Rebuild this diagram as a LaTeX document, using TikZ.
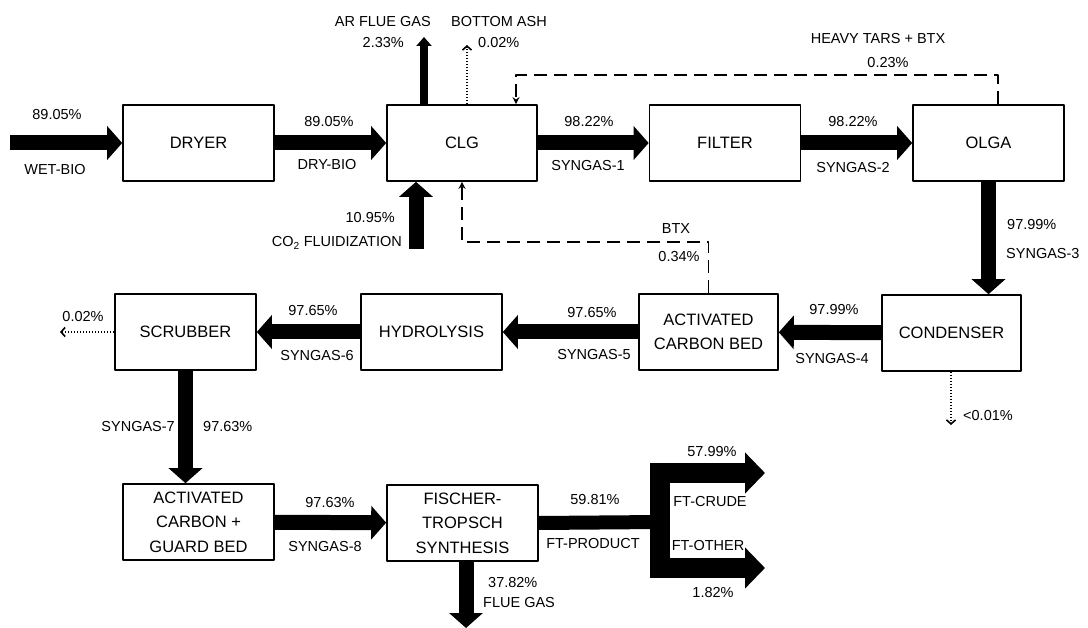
\documentclass[tikz,border=0pt]{standalone}
\usepackage{fontspec}
\setmainfont{Liberation Sans}
\usetikzlibrary{arrows.meta}

\newcommand\unitfont{\fontsize{16.5}{24.5}\selectfont}
\newcommand\tagfont{\fontsize{14.5}{17}\selectfont}

\tikzset{
  unit/.style={draw, line width=1.6pt, minimum height=76pt, align=center, inner sep=2pt, font=\unitfont},
  stream/.style={line width=15pt, -{Triangle[length=15pt, width=33pt]}},
  vent/.style={line width=8pt, -{Triangle[length=9pt, width=15pt]}},
  recycle/.style={line width=1.7pt, dash pattern=on 13pt off 7pt, -{Stealth[length=7pt, width=7pt]}},
  trace/.style={line width=1.6pt, dash pattern=on 1.5pt off 1.5pt, -{Straight Barb[length=4pt, width=9pt]}},
  split/.style={line width=20pt, line join=miter, -{Triangle[length=20pt, width=40pt]}},
  tag/.style={font=\tagfont, inner sep=1pt},
}

\begin{document}
\begin{tikzpicture}[x=1pt, y=-1pt, line join=round]
	\useasboundingbox (0,0) rectangle (1088,628);
	% process units
	\node[unit, minimum width=151pt] (dryer) at (198.5,143) {DRYER};
	\node[unit, minimum width=150pt] (clg) at (462,143) {CLG};
	\node[unit, minimum width=151pt] (filter) at (725,143) {FILTER};
	\node[unit, minimum width=151pt] (olga) at (988.5,143) {OLGA};
	\node[unit, minimum width=139pt] (condenser) at (951.5,333) {CONDENSER};
	\node[unit, minimum width=139pt] (acb) at (708.5,332) {ACTIVATED\\CARBON BED};
	\node[unit, minimum width=141pt] (hydro) at (431.5,332) {HYDROLYSIS};
	\node[unit, minimum width=141pt] (scrubber) at (185.5,332) {SCRUBBER};
	\node[unit, minimum width=151pt] (acgb) at (198.5,522) {ACTIVATED\\CARBON +\\GUARD BED};
	\node[unit, minimum width=151pt] (fts) at (462.5,523) {FISCHER-\\TROPSCH\\SYNTHESIS};
	% free ends of feeds and outlets
	\coordinate (wetbio) at (10,143);
	\coordinate (co2) at (416,249);
	\coordinate (arflue) at (424,37);
	\coordinate (ash) at (467,45);
	\coordinate (scrubloss) at (60,332);
	\coordinate (condloss) at (951,425);
	\coordinate (fluegas) at (466,628);
	\coordinate (fork) at (660,522);
	\coordinate (crude) at (765,473);
	\coordinate (other) at (765,568);
	% main line
	\draw[stream] (wetbio) -- (dryer.west);
	\draw[stream] (dryer) -- (clg);
	\draw[stream] (clg) -- (filter);
	\draw[stream] (filter) -- (olga);
	\draw[stream] (olga.south) -- (olga.south |- condenser.north);
	\draw[stream] (condenser) -- (acb);
	\draw[stream] (acb) -- (hydro);
	\draw[stream] (hydro) -- (scrubber);
	\draw[stream] (scrubber.south) -- (scrubber.south |- acgb.north);
	\draw[stream] (acgb) -- (fts);
	\draw[stream] (fts.south -| fluegas) -- (fluegas);
	\draw[stream] (co2) -- (co2 |- clg.south);
	\draw[vent] (clg.north -| arflue) -- (arflue);
	% small losses
	\draw[trace] (clg.north -| ash) -- (ash);
	\draw[trace] (scrubber.west) -- (scrubloss);
	\draw[trace] (condenser.south -| condloss) -- (condloss);
	% tar and BTX recycle
	\draw[recycle] ([xshift=9.5pt]olga.north) -- ++(0,-29) -| ([xshift=54pt]clg.north);
	\draw[recycle] (acb.north) -- ++(0,-51) -| (clg.south);
	% FT product split
	\draw[line width=14pt] (fts.east) -- (fork);
	\draw[split] (fork) |- (crude);
	\draw[split] (fork) |- (other);
	% stream labels
	\foreach \n/\a/\x/\y/\t in {
		wb-pct/center/57/115/89.05\%, wb-name/center/55/170/WET-BIO,
		db-pct/center/329/122/89.05\%, db-name/center/327/165/DRY-BIO,
		s1-pct/center/589/122/98.22\%, s1-name/center/588/166/SYNGAS-1,
		s2-pct/center/853/122/98.22\%, s2-name/center/853/168/SYNGAS-2,
		ar-name/east/432/22/AR FLUE GAS, ar-pct/east/405/43/2.33\%,
		ash-name/west/450/22/BOTTOM ASH, ash-pct/west/477/43/0.02\%,
		ht-name/center/878/39/HEAVY TARS + BTX, ht-pct/center/888/63/0.23\%,
		co2-pct/east/396/218/10.95\%, co2-name/east/403/243/CO\textsubscript{2} FLUIDIZATION,
		btx-name/center/676/229/BTX, btx-pct/center/679/257/0.34\%,
		s3-pct/west/1006/225/97.99\%, s3-name/west/1005/254/SYNGAS-3,
		s4-pct/center/834/310/97.99\%, s4-name/center/832/359/SYNGAS-4,
		s5-pct/center/592/313/97.65\%, s5-name/center/594/355/SYNGAS-5,
		s6-pct/center/313/311/97.65\%, s6-name/center/317/356/SYNGAS-6,
		sc-pct/center/83/317/0.02\%, cd-pct/west/962/416/<0.01\%,
		s7-name/east/176/427/SYNGAS-7, s7-pct/west/202/427/97.63\%,
		s8-pct/center/330/503/97.63\%, s8-name/center/325/547/SYNGAS-8,
		ftp-pct/center/595/500/59.81\%, ftp-name/center/593/544/FT-PRODUCT,
		cr-pct/center/712/452/57.99\%, cr-name/center/710/502/FT-CRUDE,
		ot-name/center/708/546/FT-OTHER, ot-pct/center/713/593/1.82\%,
		fg-pct/west/487/583/37.82\%, fg-name/west/482/603/FLUE GAS}
		{\node[tag, anchor=\a] (\n) at (\x,\y) {\t};}
\end{tikzpicture}
\end{document}
